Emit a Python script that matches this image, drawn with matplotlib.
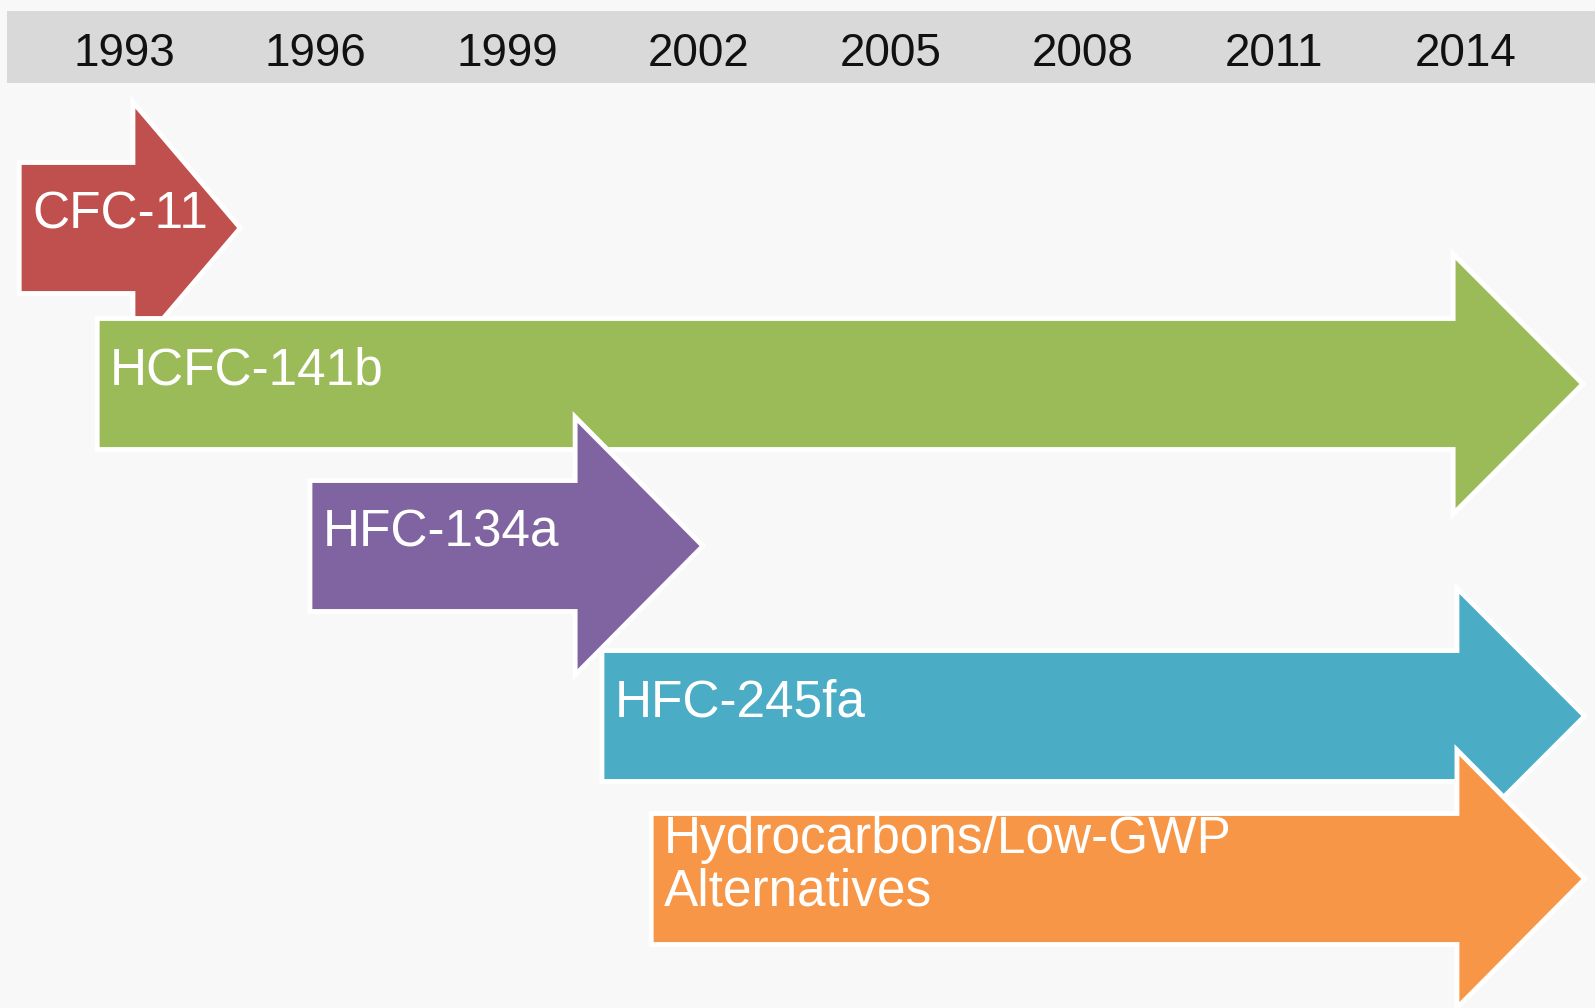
import matplotlib
matplotlib.use("Agg")
import matplotlib.pyplot as plt
from matplotlib.patches import Polygon, Rectangle

# ---- data ----
tick_years = [1993, 1996, 1999, 2002, 2005, 2008, 2011, 2014]
labels = ["CFC-11", "HCFC-141b", "HFC-134a", "HFC-245fa",
          "Hydrocarbons/Low-GWP\nAlternatives"]
start_years = [1991.36, 1992.58, 1995.91, 2000.48, 2001.25]
end_years = [1994.82, 2015.83, 2002.06, 2015.86, 2015.86]
colors = ["#C0504D", "#9BBB59", "#8064A2", "#4BACC6", "#F79646"]

# ---- layout (pixel-like vertical units, years horizontally) ----
W, H = 1595, 1008
px_per_year = 63.9
x_left = 1993 - 124 / px_per_year
x_right = x_left + W / px_per_year
row_centers = [228, 384, 546, 716, 879]
body_half = 65.5
head_half = [126, 130, 129, 128, 129]
head_len = [1.68, 2.03, 2.0, 2.0, 2.0]

plt.rcParams['font.family'] = ['Liberation Sans', 'DejaVu Sans']

fig = plt.figure(figsize=(W / 100, H / 100), dpi=100)
fig.patch.set_facecolor("#F8F8F8")
ax = fig.add_axes([0, 0, 1, 1])
ax.set_xlim(x_left, x_right)
ax.set_ylim(H, 0)
ax.axis("off")
ax.set_facecolor("#F8F8F8")

# header band
ax.add_patch(Rectangle((x_left + 7 / px_per_year, 11), x_right - x_left, 72,
                       facecolor="#D9D9D9", edgecolor="none", zorder=1))
for yr in tick_years:
    ax.text(yr, 54, str(yr), ha="center", va="center", fontsize=33,
            color="#111111", zorder=2)

for i, lab in enumerate(labels):
    x0, x1 = start_years[i], end_years[i]
    xh = x1 - head_len[i]
    yc = row_centers[i]
    bh, hh = body_half, head_half[i]
    pts = [(x0, yc - bh), (xh, yc - bh), (xh, yc - hh), (x1, yc),
           (xh, yc + hh), (xh, yc + bh), (x0, yc + bh)]
    ax.add_patch(Polygon(pts, closed=True, facecolor=colors[i],
                         edgecolor="white", linewidth=3.5,
                         joinstyle="miter", zorder=3 + i))
    ax.text(x0 + 0.2, yc - 13, lab, ha="left", va="center", fontsize=37,
            color="white", linespacing=1.08, zorder=10)

fig.savefig("out.png", dpi=100, facecolor=fig.get_facecolor())
